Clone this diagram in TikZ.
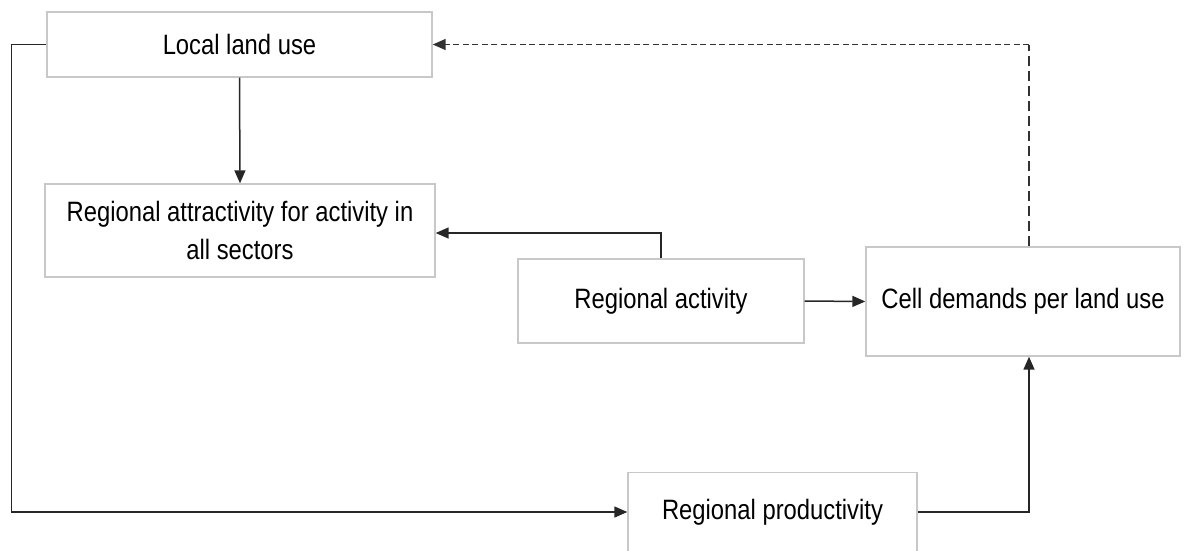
\documentclass[tikz,border=0pt]{standalone}
\usepackage{fontspec}
\setmainfont{Liberation Sans}[FakeStretch=0.85]
\usetikzlibrary{arrows.meta}
\definecolor{boxgray}{RGB}{200,200,200}
\definecolor{dashgray}{RGB}{50,50,50}
\tikzset{
  box/.style={draw=boxgray, line width=1.4pt, fill=white, align=center,
    inner sep=0pt, font=\fontsize{28}{38}\selectfont},
  tip/.style={-{Triangle[length=13pt,width=11pt]}},
  conn/.style={draw=black!85, line width=1.5pt, tip},
  feedback/.style={draw=dashgray, line width=1.5pt}
}
\begin{document}
\begin{tikzpicture}[x=1pt,y=-1pt]
\useasboundingbox (0,0) rectangle (1190,550);

% stages of the model
\node[box, minimum width=385pt, minimum height=65pt] (land) at (239.5,44.5) {Local land use};
\node[box, minimum width=390pt, minimum height=93pt] (attr) at (240,230.5)
  {Regional attractivity for activity in\\all sectors};
\node[box, minimum width=286pt, minimum height=84pt] (act) at (661,301) {Regional activity};
\node[box, minimum width=314pt, minimum height=109pt] (cell) at (1023,301.5) {Cell demands per land use};
\node[box, minimum width=289pt, minimum height=79pt] (prod) at (772.5,512) {Regional productivity};

% bend point of the feedback loop
\coordinate (fbcorner) at ([xshift=6pt]cell.north |- land.east);

% influences
\draw[conn] (land.south) -- (attr.north);
\draw[conn] (act.north) |- ([yshift=-2.5pt]attr.east);
\draw[conn] (act.east) -- (cell.west);
\draw[conn] (land.west) -- ++(-35,0) |- (prod.west);
\draw[conn] (prod.east) -| ([xshift=6pt]cell.south);

% feedback from cell demands to local land use
\draw[feedback, dash pattern=on 10pt off 5pt] ([xshift=6pt]cell.north) -- (fbcorner);
\draw[feedback, dash pattern=on 6pt off 3.5pt, tip] (fbcorner) -- (land.east);
\end{tikzpicture}
\end{document}
